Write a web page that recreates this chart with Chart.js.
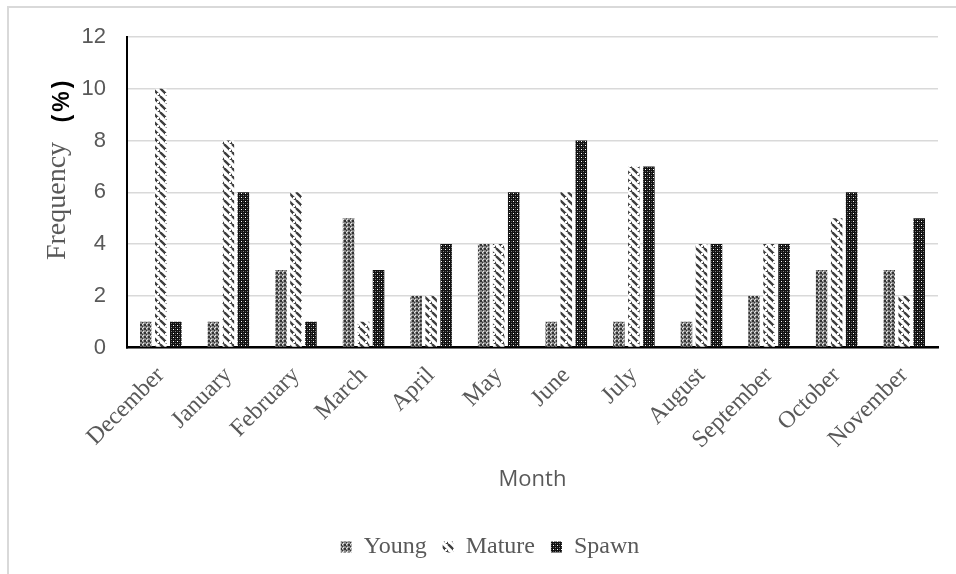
<!DOCTYPE html>
<html>
<head>
<meta charset="utf-8">
<title>Frequency by month</title>
<style>
  html, body { margin: 0; padding: 0; background: #fff; }
  #wrap { position: relative; width: 956px; height: 574px; }
  #frame { position: absolute; left: 7px; top: 6px; right: 0; bottom: 0;
           border-left: 2px solid #d9d9d9; border-top: 2px solid #d9d9d9; }
  canvas { position: absolute; left: 0; top: 0; }
</style>
</head>
<body>
<div id="wrap">
  <div id="frame"></div>
  <canvas id="chart" width="956" height="574"></canvas>
</div>
<script src="https://cdn.jsdelivr.net/npm/chart.js@4.4.6/dist/chart.umd.min.js"></script>
<script>
const months = ["December", "January", "February", "March", "April", "May",
                "June", "July", "August", "September", "October", "November"]
const young  = [1, 1, 3, 5, 2, 4, 1, 1, 1, 2, 3, 3]
const mature = [10, 8, 6, 1, 2, 4, 6, 7, 4, 4, 5, 2]
const spawn  = [1, 6, 1, 3, 4, 6, 8, 7, 4, 4, 6, 5]
const yTicks = [0, 2, 4, 6, 8, 10, 12]

const canvas = document.getElementById("chart")
const ctx = canvas.getContext("2d")

function makePattern(size, draw) {
    const c = document.createElement("canvas")
    c.width = size
    c.height = size
    draw(c.getContext("2d"), size)
    return ctx.createPattern(c, "repeat")
}

// grey dotted fill
const youngFill = makePattern(4, (g) => {
    g.fillStyle = "#8a8a8a"
    g.fillRect(0, 0, 4, 4)
    g.fillStyle = "#333333"
    g.fillRect(0, 0, 2, 2)
    g.fillRect(2, 2, 1, 1)
    g.fillStyle = "#e6e6e6"
    g.fillRect(3, 3, 1, 1)
    g.fillRect(2, 0, 1, 1)
})

// white with dark diagonal strokes
const matureFill = makePattern(8, (g, s) => {
    g.fillStyle = "#ffffff"
    g.fillRect(0, 0, s, s)
    g.strokeStyle = "#3c3c3c"
    g.lineWidth = 2.3
    for (const off of [-s, 0, s]) {
        g.beginPath()
        g.moveTo(off, 0)
        g.lineTo(off + s, s)
        g.stroke()
    }
    g.fillStyle = "#ffffff"
    g.fillRect(5, 5, 2, 2)
})

// black with white dots
const spawnFill = makePattern(4, (g) => {
    g.fillStyle = "#111111"
    g.fillRect(0, 0, 4, 4)
    g.fillStyle = "#ffffff"
    g.fillRect(1, 1, 1, 1)
    g.fillStyle = "#808080"
    g.fillRect(3, 3, 1, 1)
    g.fillStyle = "#4a4a4a"
    g.fillRect(3, 1, 1, 1)
    g.fillRect(1, 3, 1, 1)
})

const yTitle = {
    id: "yTitle",
    afterDraw(chart) {
        const c = chart.ctx
        c.save()
        c.translate(62, 0)
        c.rotate(-Math.PI / 2)
        c.textAlign = "center"
        c.textBaseline = "middle"
        c.fillStyle = "#595959"
        c.font = "28px 'Liberation Serif'"
        c.fillText("Frequency", -201, -4)
        c.fillStyle = "#000000"
        c.font = "bold 23px 'Liberation Sans'"
        c.letterSpacing = "3px"
        c.fillText("(%)", -100, 1)
        c.restore()
    },
}

new Chart(canvas, {
    type: "bar",
    data: {
        labels: months,
        datasets: [
            { label: "Young", data: young, backgroundColor: youngFill },
            { label: "Mature", data: mature, backgroundColor: matureFill },
            { label: "Spawn", data: spawn, backgroundColor: spawnFill },
        ],
    },
    options: {
        responsive: false,
        animation: false,
        categoryPercentage: 0.666,
        barPercentage: 0.77,
        layout: { padding: { left: 42, right: 18, top: 37, bottom: 5 } },
        plugins: {
            legend: {
                position: "bottom",
                labels: {
                    boxWidth: 11,
                    boxHeight: 11,
                    padding: 16,
                    color: "#595959",
                    font: { family: "'Liberation Serif'", size: 24 },
                },
            },
            tooltip: { enabled: false },
        },
        scales: {
            x: {
                grid: { display: false },
                border: { color: "#000", width: 2.5 },
                ticks: {
                    minRotation: 45,
                    maxRotation: 45,
                    padding: 6,
                    color: "#595959",
                    font: { family: "'Liberation Serif'", size: 24 },
                },
                title: {
                    display: true,
                    text: "Month",
                    color: "#595959",
                    padding: { top: 0, bottom: 26 },
                    font: { family: "'Open Sans'", size: 22 },
                },
                afterFit(scale) { scale.height = 171.5 },
            },
            y: {
                min: 0,
                max: 12,
                afterBuildTicks(scale) { scale.ticks = yTicks.map(v => ({ value: v })) },
                grid: { color: "#d9d9d9", lineWidth: 1.5, drawTicks: false },
                border: { color: "#000", width: 2 },
                ticks: {
                    padding: 21,
                    color: "#595959",
                    font: { family: "'Liberation Sans'", size: 22 },
                },
                afterFit(scale) { scale.width = 85 },
            },
        },
    },
    plugins: [yTitle],
})
</script>
</body>
</html>
